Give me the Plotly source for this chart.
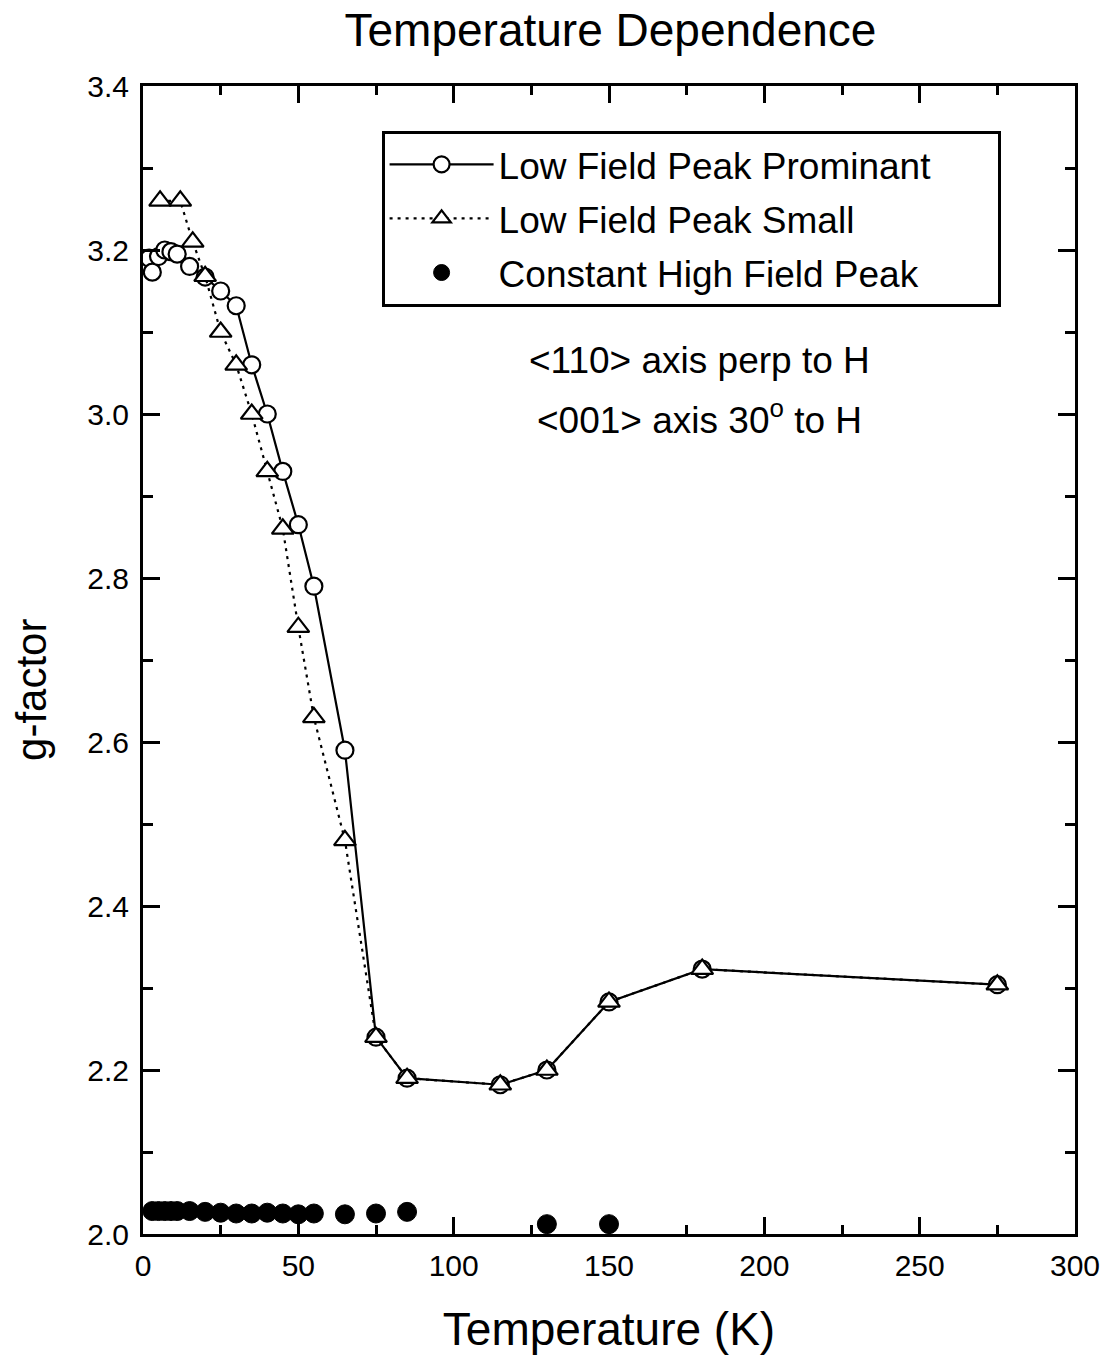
import plotly.graph_objects as go

# Low Field Peak Prominant (open circles, solid line)
t_prom = [2, 3, 5, 7, 9, 11, 15, 20, 25, 30, 35, 40, 45, 50, 55, 65, 75, 85, 115, 130, 150, 180, 275]
g_prom = [3.19, 3.173, 3.192, 3.20, 3.198, 3.195, 3.18, 3.167, 3.15, 3.132, 3.06, 3.00, 2.93, 2.865,
          2.79, 2.59, 2.24, 2.19, 2.182, 2.20, 2.283, 2.323, 2.304]

# Low Field Peak Small (open triangles, dotted line)
t_small = [5.5, 12, 16, 20, 25, 30, 35, 40, 45, 50, 55, 65, 75, 85, 115, 130, 150, 180, 275]
g_small = [3.26, 3.26, 3.21, 3.168, 3.10, 3.06, 3.00, 2.93, 2.86, 2.74, 2.63, 2.48, 2.24, 2.19,
           2.182, 2.20, 2.283, 2.323, 2.304]

# Constant High Field Peak (filled circles)
t_const = [3, 5, 7, 9, 11, 15, 20, 25, 30, 35, 40, 45, 50, 55, 65, 75, 85, 130, 150]
g_const = [2.028, 2.028, 2.028, 2.028, 2.028, 2.028, 2.027, 2.026, 2.025, 2.025, 2.026, 2.025,
           2.024, 2.025, 2.024, 2.025, 2.027, 2.012, 2.012]

x_ticks = [0, 50, 100, 150, 200, 250, 300]
y_ticks = [2.0, 2.2, 2.4, 2.6, 2.8, 3.0, 3.2, 3.4]

FONT = "Liberation Sans, Arial, Helvetica, sans-serif"
PAD = "\u00a0" * 6

fig = go.Figure()
fig.add_trace(go.Scatter(
    x=t_prom, y=g_prom, mode="lines+markers", name="Low Field Peak Prominant" + PAD,
    legendgroup="a",
    line=dict(color="black", width=2.2),
    marker=dict(symbol="circle", size=17, color="white", line=dict(color="black", width=2.2)),
))
fig.add_trace(go.Scatter(
    x=t_small, y=g_small, mode="lines+markers", name="Low Field Peak Small",
    legendgroup="b",
    line=dict(color="black", width=2.2, dash="3px,5px"),
    marker=dict(symbol="triangle-up", size=19, color="white", line=dict(color="black", width=2.2)),
))
fig.add_trace(go.Scatter(
    x=t_const, y=g_const, mode="markers", name="Constant High Field Peak",
    legendgroup="c",
    marker=dict(symbol="circle", size=19, color="black", line=dict(color="black", width=1)),
))

axis_common = dict(
    showline=True, linecolor="black", linewidth=3, mirror="ticks",
    ticks="inside", ticklen=17, tickwidth=2.5, tickcolor="black",
    showgrid=False, zeroline=False,
    tickfont=dict(family=FONT, size=30, color="black"),
)

fig.update_xaxes(
    range=[0, 300], tickmode="array", tickvals=x_ticks, ticktext=[str(v) for v in x_ticks],
    minor=dict(dtick=25, ticks="inside", ticklen=9, tickwidth=2.5, tickcolor="black"),
    title=dict(text="Temperature (K)", font=dict(family=FONT, size=46, color="black"), standoff=32),
    ticklabelstandoff=3,
    **axis_common,
)
fig.update_yaxes(
    range=[2.0, 3.4], tickmode="array", tickvals=y_ticks, ticktext=[f"{v:.1f}" for v in y_ticks],
    minor=dict(dtick=0.1, ticks="inside", ticklen=10, tickwidth=2.5, tickcolor="black"),
    ticklabelstandoff=5,
    **axis_common,
)

# y-axis title placed slightly below the plot centre, as in the reference
fig.add_annotation(text="g-factor", xref="paper", yref="paper",
                   x=-0.119, y=0.474, xanchor="center", yanchor="middle", textangle=-90,
                   showarrow=False, font=dict(family=FONT, size=42, color="black"))

fig.add_annotation(text="&lt;110&gt; axis perp to H", xref="paper", yref="paper",
                   x=0.597, y=0.761, xanchor="center", yanchor="middle", showarrow=False,
                   font=dict(family=FONT, size=37, color="black"))
fig.add_annotation(text="&lt;001&gt; axis 30<sup>o</sup> to H", xref="paper", yref="paper",
                   x=0.597, y=0.711, xanchor="center", yanchor="middle", showarrow=False,
                   font=dict(family=FONT, size=37, color="black"))

fig.update_layout(
    width=1112, height=1366,
    margin=dict(l=143, r=35, t=86, b=132),
    paper_bgcolor="white", plot_bgcolor="white",
    title=dict(text="Temperature Dependence", x=0.549, xanchor="center",
               y=1 - 30 / 1366, yanchor="middle", yref="container",
               font=dict(family=FONT, size=46, color="black")),
    showlegend=True,
    legend=dict(x=0.256, y=0.961, xanchor="left", yanchor="top",
                bordercolor="black", borderwidth=3, bgcolor="white",
                font=dict(family=FONT, size=37, color="black"),
                itemwidth=104, tracegroupgap=3),
    font=dict(family=FONT, color="black"),
)

fig.write_html("out.html")
